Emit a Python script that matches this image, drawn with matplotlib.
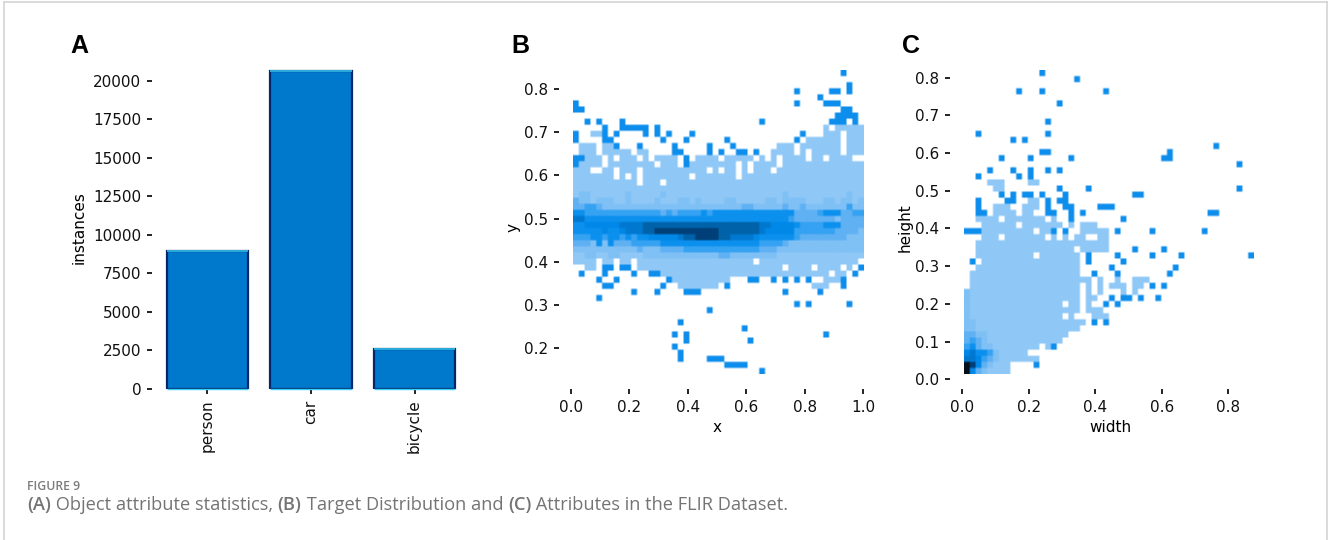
import numpy as np
import matplotlib
matplotlib.use("Agg")
import matplotlib.pyplot as plt
from matplotlib.colors import ListedColormap, BoundaryNorm
from matplotlib.lines import Line2D

W, H = 1330, 540

# panel A
bar_names = ["person", "car", "bicycle"]
bar_values = [8970, 20650, 2570]
bar_ticks = [0, 2500, 5000, 7500, 10000, 12500, 15000, 17500, 20000]

# panel B, x / y histogram. rows run top to bottom, 50 columns, spaces only for counting
# . empty, 1-9 density, a darkest, x isolated bin
xy_rows = [
    ".......... .......... .......... .......... ......x...",
    "",
    ".......... .......... .......... .......... .......x..",
    ".......... .......... .......... ........x. ....xx.x..",
    ".......... .......... .......... .......... ..x.......",
    "x......... .......... .......... ........x. ...xxx....",
    "xx........ .......... .......... .......... ......xx..",
    ".......... .......... .......... .......... .....xxxx.",
    "..x.x...x. .......... .......... ..x....... ....xxx.x.",
    ".....x..xx xxx.x..... .......... .......... ...1.11111",
    "x..11x.x.. ..x.x.x... x......... .........x ...111.111",
    "x....xx... .....x...x ......x... ........x. 111111.111",
    ".111.11x.. .x.....x.. ...x...x.. .....111.1 111111.111",
    ".111.11111 .11....xx. ...x.x..xx .x..1111.1 .11111.111",
    "xx111.1.11 1.1.1111.x .1111.1111 1.1.1.1111 .11.1111..",
    "x1111.1111 1111.111.x 11111111.1 .1111.1111 1111111111",
    "111..11.11 1.11111111 111.1.11.1 .111.11111 1111111111",
    "1111111.1. 1.11111111 .1111111.1 1111111111 1111111111",
    "1111111111 1.111.1111 1111111111 1111111111 1111111111",
    "1111111111 1111111111 1111111111 1111111111 1111111111",
    "1221111112 1111121111 1111111111 1111112111 1111111211",
    "3221222112 1111211122 1211112211 1112212222 1112212212",
    "3344322222 2222222222 2222222223 3222223223 2222222422",
    "5544444444 4444434344 4454555555 5555555533 3345553344",
    "7755555555 5555555555 5555555555 5555555433 3333323333",
    "5566666677 7788888888 8888888888 8877666654 4445553333",
    "5555565567 7788999999 9999988888 8876666644 4444433332",
    "4445545545 4556666678 8999988777 7655555543 3333333222",
    "3332525333 4444455555 5555555555 5544443222 2222222222",
    "2222222222 2322233334 4444444444 4433322222 2222222222",
    "1122112211 1122222222 2222233222 2222211111 1111111111",
    "1111.11.11 .111111111 1111111111 1.11111111 111111111.",
    "..11.xx.xx .111111111 1111111111 111111.111 1.1111.1.x",
    ".x...x.... x..xx11111 1111111111 1111111111 1111.11.x.",
    "....x..x.. ......x111 1111111... xx..x.x.x. x..111x...",
    ".....xx... .....x..11 11111.x... .......... .111..x...",
    ".......... x...x....x xx........ ......x... ..x.......",
    "....x.....",
    ".......... .......... .......... ........x. x......x..",
    ".......... .......... ...x......",
    "",
    ".......... ........x.",
    ".......... .......... .........x",
    ".......... .......x.x .......... .......... ...x......",
    ".......... .........x .......... x.........",
    ".......... .......x..",
    ".......... ........x.",
    ".......... ........x. ...xxx....",
    ".......... .......... ......xxxx",
    ".......... .......... .......... ..x.......",
]
xy_ticks_x = [0.0, 0.2, 0.4, 0.6, 0.8, 1.0]
xy_ticks_y = [0.2, 0.3, 0.4, 0.5, 0.6, 0.7, 0.8]

# panel C, width / height histogram
wh_rows = [
    ".......... ...x......",
    ".......... .........x",
    "",
    ".........x ...x...... ....x.....",
    "",
    ".......... ......x...",
    "",
    "",
    ".......... ....x.....",
    "",
    "..x....... ....x.....",
    "........x. x.........",
    ".......... .......... .......... .......... ...x......",
    ".......... ...xx..... .......... .....x....",
    "......x... .x......x. .......... ....xx....",
    ".......... .......... .......... .......... .......x..",
    "....x...x. .x..x.x...",
    "..x......x .x........",
    "....111... .11.......",
    ".....11... ......x... .x........ .......... .......x..",
    "......x.x. xx.x...x.. .........x x.........",
    "..x....xx. .11.x.xx..",
    "..x..111.. 111.x..xx. ...xxx....",
    "..xx.1111. 11..xx..x. x......... .......... ..xx......",
    "..1111.111 1111.1..x. .......x..",
    "...111111. 1111111.1. 111.......",
    "xxx1111111 11.11x.x.. 11111.x... ..x....... .x........",
    "...111.111 1111.1.1.1 1..11.....",
    "..11111111 1111111111 11111.....",
    "..11111111 111111111. 11111....x ....x.....",
    "..11111111 11.1111111 .x....x... ..x....x.. .........x",
    ".x.1111111 1111111111 .x.....x..",
    "..11111111 1111111111 .....x.... ......x...",
    ".111111111 1111111111 ..x...x... .....x....",
    ".111111111 1111111111 11.1..1..1 11........",
    ".111111111 1111111111 .1.1.111.1 1.x.x.....",
    "2111111111 1111111111 .1.1...1.1",
    "2111111111 1111111111 .11..x.xx. x..x......",
    "2111111111 1111111.11 .1..x.x...",
    "2111111111 1111111111 .111......",
    "2111111111 1111111.1. ..111.....",
    "2211111111 1111111111 1.x.x.....",
    "2211111111 1111111111",
    "3322111111 11111111..",
    "3432111111 1111111...",
    "4532211111 111.1x....",
    "6755421111 1.........",
    "7764321111 111.......",
    "a9632111.. ..x.......",
    "a6321111..",
]
wh_ticks_x = [0.0, 0.2, 0.4, 0.6, 0.8]
wh_ticks_y = [0.0, 0.1, 0.2, 0.3, 0.4, 0.5, 0.6, 0.7, 0.8]

levels = ".123456789ax"
colors = ["#8fc8f6", "#7fc0f5", "#5fb1f3", "#35a2f2", "#0b90ee", "#0088e8",
          "#0078d0", "#0062a8", "#003f78", "#03101c", "#0d8dec"]
cmap = ListedColormap(colors)
cmap.set_bad("white")  # opaque, else the bilinear edge picks up black
norm = BoundaryNorm(np.arange(0.5, 12.5), cmap.N)


def to_grid(rows):
    grid = np.full((50, 50), np.nan)
    for r, row in enumerate(rows):
        row = row.replace(" ", "")
        for c, ch in enumerate(row[:50]):
            if ch != ".":
                grid[r, c] = levels.index(ch)
    return grid


def draw_hist(ax, rows, extent):
    # each bin repeated so bilinear only softens its edge, the source is a blurry scan
    grid = np.kron(to_grid(rows), np.ones((3, 3)))
    ax.imshow(grid, cmap=cmap, norm=norm, extent=extent, aspect="auto",
              interpolation="bilinear", interpolation_stage="rgba")


def px_axes(left, top, right, bottom):
    ax = fig.add_axes([left / W, 1 - bottom / H, (right - left) / W, (bottom - top) / H])
    for s in ax.spines.values():
        s.set_visible(False)
    ax.tick_params(length=3.6, width=1.3, labelsize=11, color="#111111", labelcolor="#111111", pad=4)
    return ax


fig = plt.figure(figsize=(W / 100, H / 100), dpi=100)

# A
ax = px_axes(152, 66, 470, 389)
xs = np.arange(len(bar_names))
ax.bar(xs, bar_values, width=0.79, color="#0079cc", edgecolor="#06266a", linewidth=1.6)
ax.hlines(bar_values, xs - 0.395, xs + 0.395, color="#35d0fa", linewidth=1.1)
ax.hlines([0, 0, 0], xs - 0.395, xs + 0.395, color="#35d0fa", linewidth=1.0, clip_on=False)
ax.set_xlim(-0.536, 2.536)
ax.set_ylim(0, 20954)
ax.set_xticks(xs, bar_names, rotation=90)
ax.set_yticks(bar_ticks)
ax.set_ylabel("instances", fontsize=11, labelpad=5)

# B
ax = px_axes(559, 66, 875, 389)
draw_hist(ax, xy_rows, (0.0056, 0.998, 0.14, 0.843))
ax.set_xlim(-0.041, 1.04)
ax.set_ylim(0.1057, 0.8535)
ax.set_xticks(xy_ticks_x)
ax.set_yticks(xy_ticks_y)
ax.set_xlabel("x", fontsize=11, labelpad=4)
ax.set_ylabel("y", fontsize=11, labelpad=3)

# C
ax = px_axes(950, 66, 1270, 389)
draw_hist(ax, wh_rows, (0.005, 0.877, 0.014, 0.819))
ax.set_xlim(-0.037, 0.926)
ax.set_ylim(-0.0257, 0.831)
ax.set_xticks(wh_ticks_x)
ax.set_yticks(wh_ticks_y)
ax.set_xlabel("width", fontsize=11, labelpad=4)
ax.set_ylabel("height", fontsize=11, labelpad=2)

# panel letters
for name, x in [("A", 70), ("B", 511), ("C", 902)]:
    fig.text(x / W, 1 - 46 / H, name, fontsize=18, fontweight="bold",
             family="Liberation Sans", va="center", color="black")

# caption, bold and regular runs chained one after the other
fig.text(27 / W, 1 - 486 / H, "FIGURE 9", fontsize=8.8, family="Open Sans",
         fontweight="semibold", color="#7d7d7d", va="center")
caption = [("(A)", True), (" Object attribute statistics, ", False), ("(B)", True),
           (" Target Distribution and ", False), ("(C)", True),
           (" Attributes in the FLIR Dataset.", False)]
renderer = fig.canvas.get_renderer()
cx = 27
for chunk, bold in caption:
    t = fig.text(cx / W, 1 - 505 / H, chunk.replace(" ", "\u00a0"), fontsize=13.15, family="Open Sans",
                 fontweight="semibold" if bold else "normal", color="#747474", va="center")
    cx = t.get_window_extent(renderer).x1

# page border
for xd, yd in [((4, 4), (540, 2)), ((4, 1327), (2, 2)), ((1327, 1327), (2, 540))]:
    fig.add_artist(Line2D([v / W for v in xd], [1 - v / H for v in yd], color="#d4d4d4", linewidth=1.2))

fig.savefig("out.png", dpi=100)
